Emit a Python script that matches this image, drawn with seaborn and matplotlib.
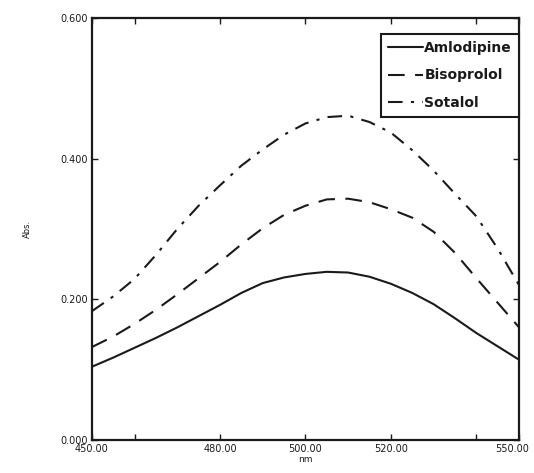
import matplotlib
matplotlib.use("Agg")
import matplotlib.pyplot as plt
import matplotlib.transforms as mtransforms
import seaborn as sns
import pandas as pd

# Absorption spectra (wavelength in nm, absorbance)
wavelength = [450, 455, 460, 465, 470, 475, 480, 485, 490, 495, 500,
              505, 510, 515, 520, 525, 530, 535, 540, 545, 550]
amlodipine = [0.104, 0.117, 0.131, 0.145, 0.160, 0.176, 0.192, 0.209, 0.223, 0.231, 0.236,
              0.239, 0.238, 0.232, 0.222, 0.209, 0.193, 0.173, 0.152, 0.133, 0.114]
bisoprolol = [0.132, 0.147, 0.165, 0.185, 0.207, 0.230, 0.253, 0.278, 0.301, 0.320, 0.333,
              0.342, 0.343, 0.338, 0.328, 0.316, 0.296, 0.266, 0.230, 0.195, 0.160]
sotalol = [0.183, 0.204, 0.229, 0.263, 0.300, 0.333, 0.362, 0.390, 0.413, 0.434, 0.450,
           0.459, 0.461, 0.452, 0.437, 0.412, 0.383, 0.350, 0.318, 0.272, 0.220]

series_names = ["Amlodipine", "Bisoprolol", "Sotalol"]
x_ticks = [450, 460, 480, 500, 520, 540, 550]
x_tick_labels = ["450.00", "", "480.00", "500.00", "520.00", "", "550.00"]
y_ticks = [0.0, 0.2, 0.4, 0.6]
y_tick_labels = ["0.000", "0.200", "0.400", "0.600"]

df = pd.DataFrame({
    "nm": wavelength * 3,
    "Abs.": amlodipine + bisoprolol + sotalol,
    "drug": [n for n in series_names for _ in wavelength],
})

sns.set_style("ticks")
plt.rcParams["font.family"] = ["DejaVu Sans"]

fig = plt.figure(figsize=(5.34, 4.73), dpi=100)
ax = fig.add_axes([0.172, 0.070, 0.800, 0.892])

ink = "#1a1a1a"
sns.lineplot(
    data=df, x="nm", y="Abs.", hue="drug", style="drug",
    palette={n: ink for n in series_names},
    dashes={"Amlodipine": "", "Bisoprolol": (8, 5), "Sotalol": (7, 4, 1.5, 4)},
    linewidth=1.5, ax=ax,
)

ax.set_xlim(450, 550)
ax.set_ylim(0, 0.6)
ax.set_xticks(x_ticks)
ax.set_xticklabels(x_tick_labels, fontsize=7, color=ink)
ax.set_yticks(y_ticks)
ax.set_yticklabels(y_tick_labels, fontsize=7, color=ink)
ax.tick_params(direction="in", length=4, width=1.0, top=True, right=True,
               colors=ink, pad=3)
for s in ax.spines.values():
    s.set_linewidth(1.6)
    s.set_color(ink)

# keep the right-corner tick label inside the canvas
last = ax.get_xticklabels()[-1]
last.set_transform(last.get_transform() +
                   mtransforms.ScaledTranslation(-7 / 100, 0, fig.dpi_scale_trans))

ax.set_xlabel("nm", fontsize=6.5, color=ink, labelpad=1)
ax.set_ylabel("Abs.", fontsize=6, color=ink, labelpad=20)

leg = ax.legend(loc="upper right", fontsize=10, frameon=True, fancybox=False,
                framealpha=1, handlelength=2.5, handletextpad=0.1,
                borderpad=0.5, labelspacing=1.0,
                bbox_to_anchor=(1.0, 0.963), borderaxespad=0.0, title=None)
leg.get_frame().set_edgecolor(ink)
leg.get_frame().set_linewidth(1.5)
for t in leg.get_texts():
    t.set_fontweight("bold")
    t.set_color(ink)

fig.savefig("out.png", dpi=100, facecolor="white")
